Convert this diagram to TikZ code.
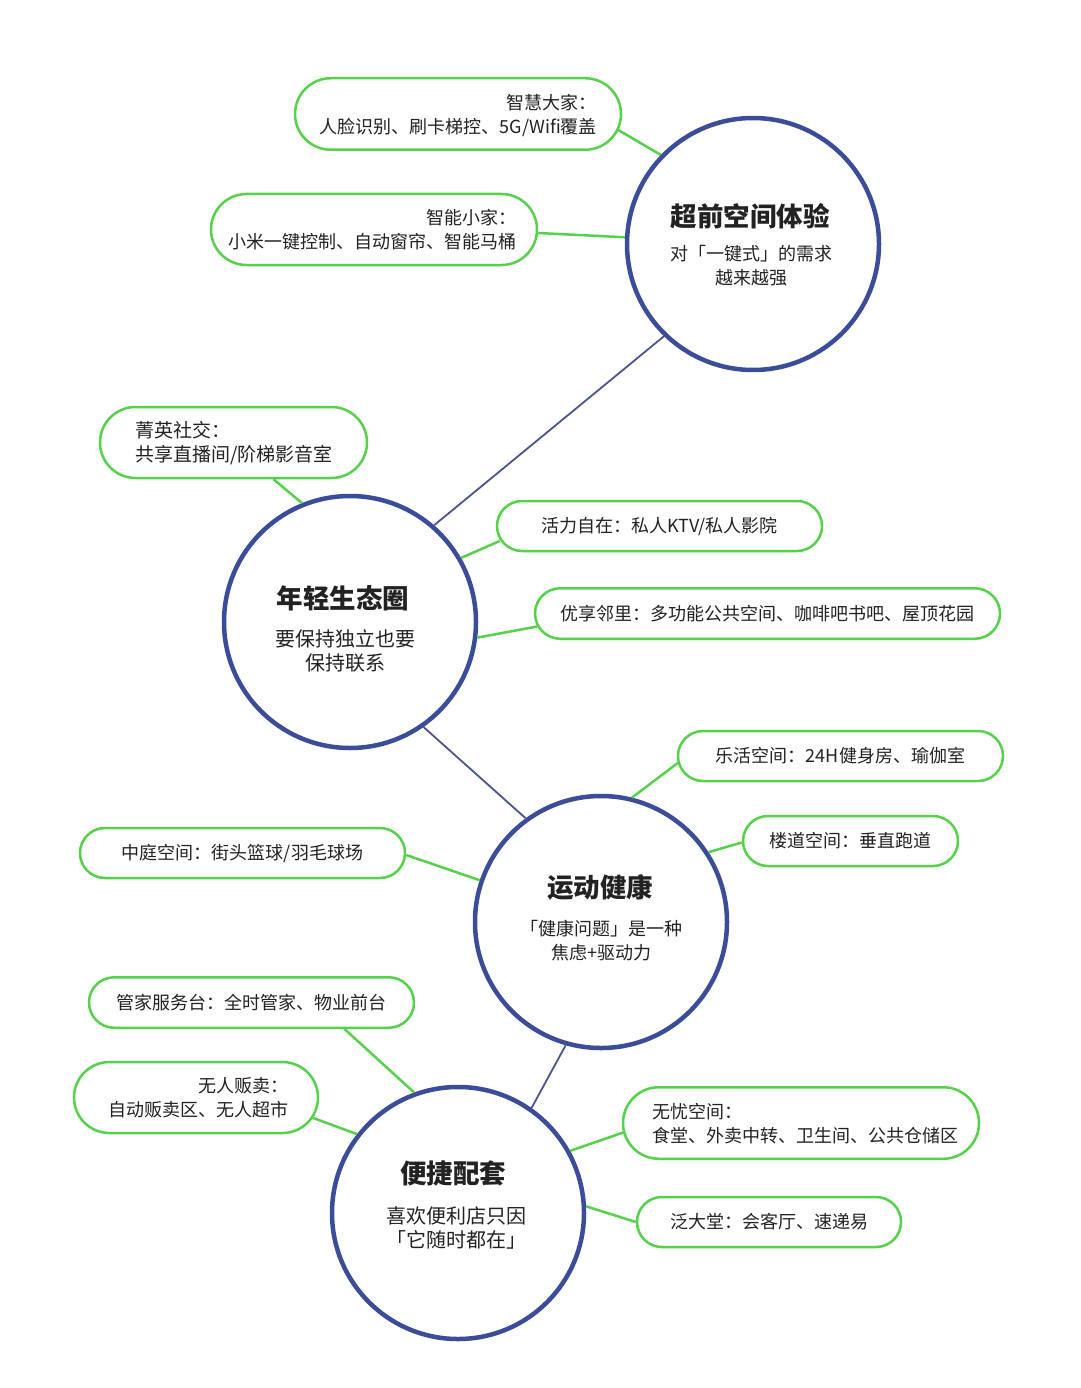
\documentclass[tikz,border=0pt]{standalone}
\usepackage{fontspec}
\setmainfont{Noto Sans CJK SC}
\usetikzlibrary{shapes.misc}
\definecolor{hubblue}{HTML}{3B4C9A}
\definecolor{linkblue}{HTML}{4A5590}
\definecolor{leafgreen}{HTML}{55D24A}
\definecolor{ink}{HTML}{222222}
\tikzset{
  hub/.style={circle, draw=hubblue, line width=4.5pt, fill=white, minimum size=252pt, inner sep=0pt},
  pill/.style={rounded rectangle, draw=leafgreen, line width=2.5pt, fill=white, inner sep=0pt, text=ink,
     font=\fontsize{18}{24}\selectfont},
  hubtitle/.style={text=ink, inner sep=0pt, font=\fontsize{26.5}{30}\selectfont\bfseries},
  hubsub/.style={text=ink, inner sep=0pt, align=center, font=\fontsize{18}{24}\selectfont},
  hubsubbig/.style={text=ink, inner sep=0pt, align=center, font=\fontsize{20}{24}\selectfont},
  pilltext/.style={text=ink, inner sep=0pt, font=\fontsize{18}{24}\selectfont},
  leaf/.style={draw=leafgreen, line width=2.5pt},
  link/.style={draw=linkblue, line width=1.8pt}
}
\begin{document}
\begin{tikzpicture}[x=1pt, y=-1pt]
\useasboundingbox[fill=white] (0,0) rectangle (1080,1388);

% hubs
\node[hub] (c1) at (753,244) {};
\node[hub] (c2) at (350,622) {};
\node[hub] (c3) at (601,922) {};
\node[hub] (c4) at (458,1213) {};

% hub connectors
\draw[link] (c1.226) -- (c2.49);
\draw[link] (c2.-55) -- (c3.126);
\draw[link] (c3.-106) -- (c4.55);

% hub texts
\node[hubtitle] (t1) at (750,216) {超前空间体验};
\node[hubsub] (s1) at (751,266) {对「一键式」的需求\\越来越强};
\node[hubtitle] (t2) at (343,598) {年轻生态圈};
\node[hubsubbig] (s2) at (345,651) {要保持独立也要\\保持联系};
\node[hubtitle] (t3) at (600,887) {运动健康};
\node[hubsub] (s3) at (601,941) {「健康问题」是一种\\焦虑+驱动力};
\node[hubtitle] (t4) at (453,1173) {便捷配套};
\node[hubsubbig] (s4) at (456,1228) {喜欢便利店只因\\「它随时都在」};

% pills
\node[pill, minimum width=326pt, minimum height=71.5pt] (p1) at (458,114) {};
\node[pilltext, anchor=east, align=right] (l1) at (597,115) {智慧大家：\\人脸识别、刷卡梯控、5G/Wifi覆盖};
\node[pill, minimum width=326pt, minimum height=71pt] (p2) at (374,229.5) {};
\node[pilltext, anchor=east, align=right] (l2) at (517,230) {智能小家：\\小米一键控制、自动窗帘、智能马桶};
\node[pill, minimum width=267pt, minimum height=71pt] (p3) at (233.5,442.5) {};
\node[pilltext, anchor=west, align=left, font=\fontsize{19}{24}\selectfont] (l3) at (135,443) {菁英社交：\\共享直播间/阶梯影音室};
\node[pill, minimum width=325pt, minimum height=50pt] (p4) at (659.5,526) {活力自在：私人KTV/私人影院};
\node[pill, minimum width=465pt, minimum height=50.5pt] (p5) at (767.5,613.5) {优享邻里：多功能公共空间、咖啡吧书吧、屋顶花园};
\node[pill, minimum width=325pt, minimum height=50pt] (p6) at (840.5,756) {乐活空间：24H健身房、瑜伽室};
\node[pill, minimum width=215pt, minimum height=50pt] (p7) at (850.5,841) {楼道空间：垂直跑道};
\node[pill, minimum width=325pt, minimum height=50pt] (p8) at (242.5,853) {中庭空间：街头篮球/羽毛球场};
\node[pill, minimum width=325pt, minimum height=50.5pt] (p9) at (251.5,1002.5) {管家服务台：全时管家、物业前台};
\node[pill, minimum width=244pt, minimum height=71pt] (p10) at (196,1097.5) {};
\node[pilltext, anchor=east, align=right] (l10) at (289,1098) {无人贩卖：\\自动贩卖区、无人超市};
\node[pill, minimum width=356pt, minimum height=71.5pt] (p11) at (801,1123) {};
\node[pilltext, anchor=west, align=left] (l11) at (652,1124) {无忧空间：\\食堂、外卖中转、卫生间、公共仓储区};
\node[pill, minimum width=264pt, minimum height=50pt] (p12) at (769,1222) {泛大堂：会客厅、速递易};

% leaf connectors
\draw[leaf] ([xshift=-4pt,yshift=-16pt]p1.east) -- (c1.136);
\draw[leaf] ([yshift=-3.5pt]p2.east) -- (c1.177);
\draw[leaf] ([xshift=40pt]p3.south) -- (c2.112);
\draw[leaf] ([xshift=4pt,yshift=-15pt]p4.west) -- (c2.30);
\draw[leaf] ([xshift=3.5pt,yshift=-13pt]p5.west) -- (c2.-7);
\draw[leaf] ([xshift=1pt,yshift=-7pt]p6.west) -- (c3.76);
\draw[leaf] ([yshift=-1.5pt]p7.west) -- (c3.33);
\draw[leaf] ([yshift=-2pt]p8.east) -- (c3.161);
\draw[leaf] ([xshift=93pt]p9.south) -- (c4.110);
\draw[leaf] ([xshift=-6pt,yshift=-20.5pt]p10.east) -- (c4.142);
\draw[leaf] ([xshift=1.5pt,yshift=-9.5pt]p11.west) -- (c4.29);
\draw[leaf] (p12.west) -- (c4.3);
\end{tikzpicture}
\end{document}
